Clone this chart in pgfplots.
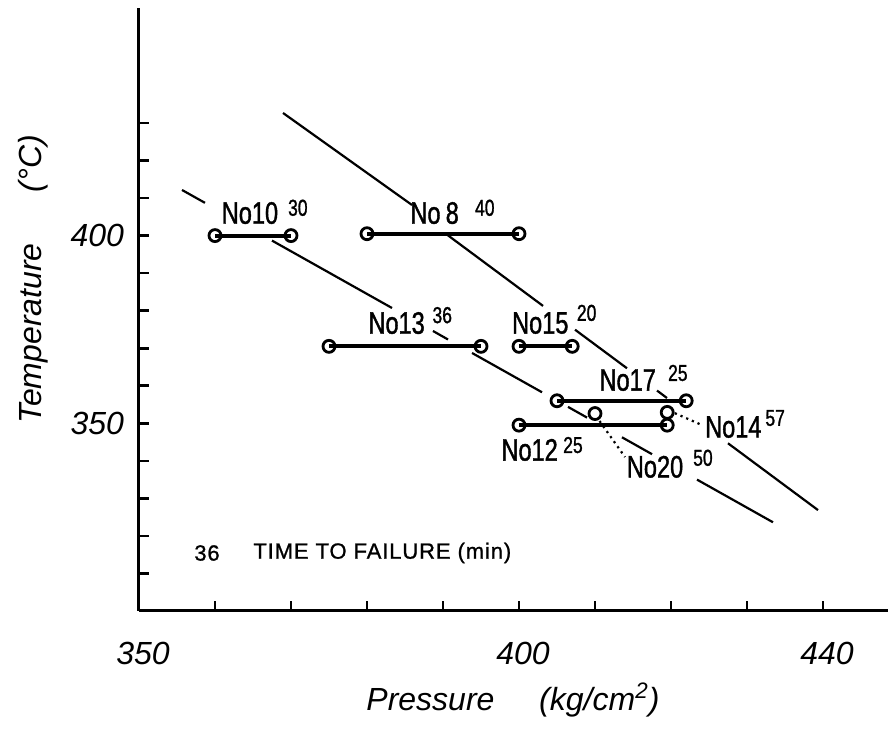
\documentclass[border=0pt]{standalone}
\usepackage{pgfplots}
\pgfplotsset{compat=1.18}
\usepackage{fontspec}
\setmainfont{Liberation Sans}
\newfontfamily\labfont[FakeStretch=0.76, FakeBold=1.2]{Liberation Sans}
\newfontfamily\legfamily[FakeBold=1]{Liberation Sans}
\newcommand{\tickfont}{\fontsize{16}{18}\selectfont\itshape}
\newcommand{\nofont}{\labfont\fontsize{15.5}{17}\selectfont}
\newcommand{\supfont}{\labfont\fontsize{11.5}{13}\selectfont}
\newcommand{\legfont}{\legfamily\fontsize{11}{13}\selectfont\addfontfeature{LetterSpace=4}}
\begin{document}
\begin{tikzpicture}
\useasboundingbox (-69.5pt,-60pt) rectangle (374.5pt,305.5pt);
\begin{axis}[
  at={(0pt,0pt)}, anchor=south west,
  x=3.8pt, y=1.877pt,
  xmin=350, xmax=448.6, ymin=300, ymax=460.6,
  axis lines=left,
  axis line style={-, line width=1.5pt},
  tick align=inside,
  major tick length=5pt,
  tick style={line width=1.3pt, black},
  xtick={350,360,...,440},
  xticklabels={350,,,,,400,,,,440},
  ytick={310,320,...,430},
  yticklabels={,,,,350,,,,,400,,,},
  xticklabel style={font=\tickfont, yshift=-12pt, xshift=2pt},
  yticklabel style={font=\tickfont, xshift=-4pt},
  clip=false,
]
\pgfplotsset{bar/.style={black, line width=2pt, mark=o, mark size=3pt,
  mark options={line width=1.4pt, fill=white, solid}}}
\addplot[bar] coordinates {(360,400) (370,400)};
\addplot[bar] coordinates {(380,400.5) (400,400.5)};
\addplot[bar] coordinates {(375,370.5) (395,370.5)};
\addplot[bar] coordinates {(400,370.5) (407,370.5)};
\addplot[bar] coordinates {(405,356) (422,356)};
\addplot[bar] coordinates {(400,349.5) (419.5,349.5)};
\addplot[bar, only marks] coordinates {(410,352.6)};
\addplot[bar, only marks] coordinates {(419.5,352.9)};
% trend line A
\pgfplotsset{trend/.style={black, line width=1.1pt, no marks}}
\addplot[trend] coordinates {(368.95,432.66) (385.92,408.15)};
\addplot[trend] coordinates {(390.66,400.05) (403.16,381.27)};
\addplot[trend] coordinates {(407.37,374.93) (414.21,364.65)};
\addplot[trend] coordinates {(418.16,358.71) (419.47,356.74)};
\addplot[trend] coordinates {(427.50,344.67) (439.34,326.88)};
% trend line B
\addplot[trend] coordinates {(355.66,412.15) (358.68,408.72)};
\addplot[trend] coordinates {(367.50,398.67) (383.29,380.71)};
\addplot[trend] coordinates {(388.68,374.59) (390.66,372.32)};
\addplot[trend] coordinates {(393.82,368.73) (403.03,358.26)};
\addplot[trend] coordinates {(406.45,354.37) (408.95,351.52)};
\addplot[trend] coordinates {(413.55,346.27) (417.50,341.77)};
\addplot[trend] coordinates {(423.42,335.00) (433.42,323.63)};
% dotted leaders
\addplot[black, line width=1.1pt, dotted, no marks] coordinates {(410.6,350.6) (413.95,341.0)};
\addplot[black, line width=1.1pt, dotted, no marks] coordinates {(420.5,352.7) (424.1,349.5)};
% labels
\node[font=\nofont] at (axis cs:364.6,406.0) {No10};
\node[font=\supfont] at (axis cs:370.9,407.4) {30};
\node[font=\nofont] at (axis cs:388.9,406.0) {No\,8};
\node[font=\supfont] at (axis cs:395.5,407.4) {40};
\node[font=\nofont] at (axis cs:383.9,376.7) {No13};
\node[font=\supfont] at (axis cs:389.9,378.8) {36};
\node[font=\nofont] at (axis cs:402.8,376.7) {No15};
\node[font=\supfont] at (axis cs:408.9,379.4) {20};
\node[font=\nofont] at (axis cs:414.3,361.5) {No17};
\node[font=\supfont] at (axis cs:420.9,363.4) {25};
\node[font=\nofont] at (axis cs:428.2,349.0) {No14};
\node[font=\supfont] at (axis cs:433.7,351.4) {57};
\node[font=\nofont] at (axis cs:401.4,342.9) {No12};
\node[font=\supfont] at (axis cs:407.1,344.2) {25};
\node[font=\nofont] at (axis cs:417.9,338.4) {No20};
\node[font=\supfont] at (axis cs:424.2,340.8) {50};
% legend note
\node[font=\legfont] at (axis cs:358.95,315.45) {36};
\node[font=\legfont, anchor=west, inner sep=0pt] at (axis cs:365.0,315.45) {TIME TO FAILURE (min)};
% axis titles
\node[rotate=90, font=\tickfont] at (axis cs:336.05,388.4) {Temperature\hspace{1.6em}(°C)};
\node[font=\tickfont] at (axis cs:399.2,276.3) {Pressure\hspace{1.4em}(kg/cm\textsuperscript{2})};
\end{axis}
\end{tikzpicture}
\end{document}
